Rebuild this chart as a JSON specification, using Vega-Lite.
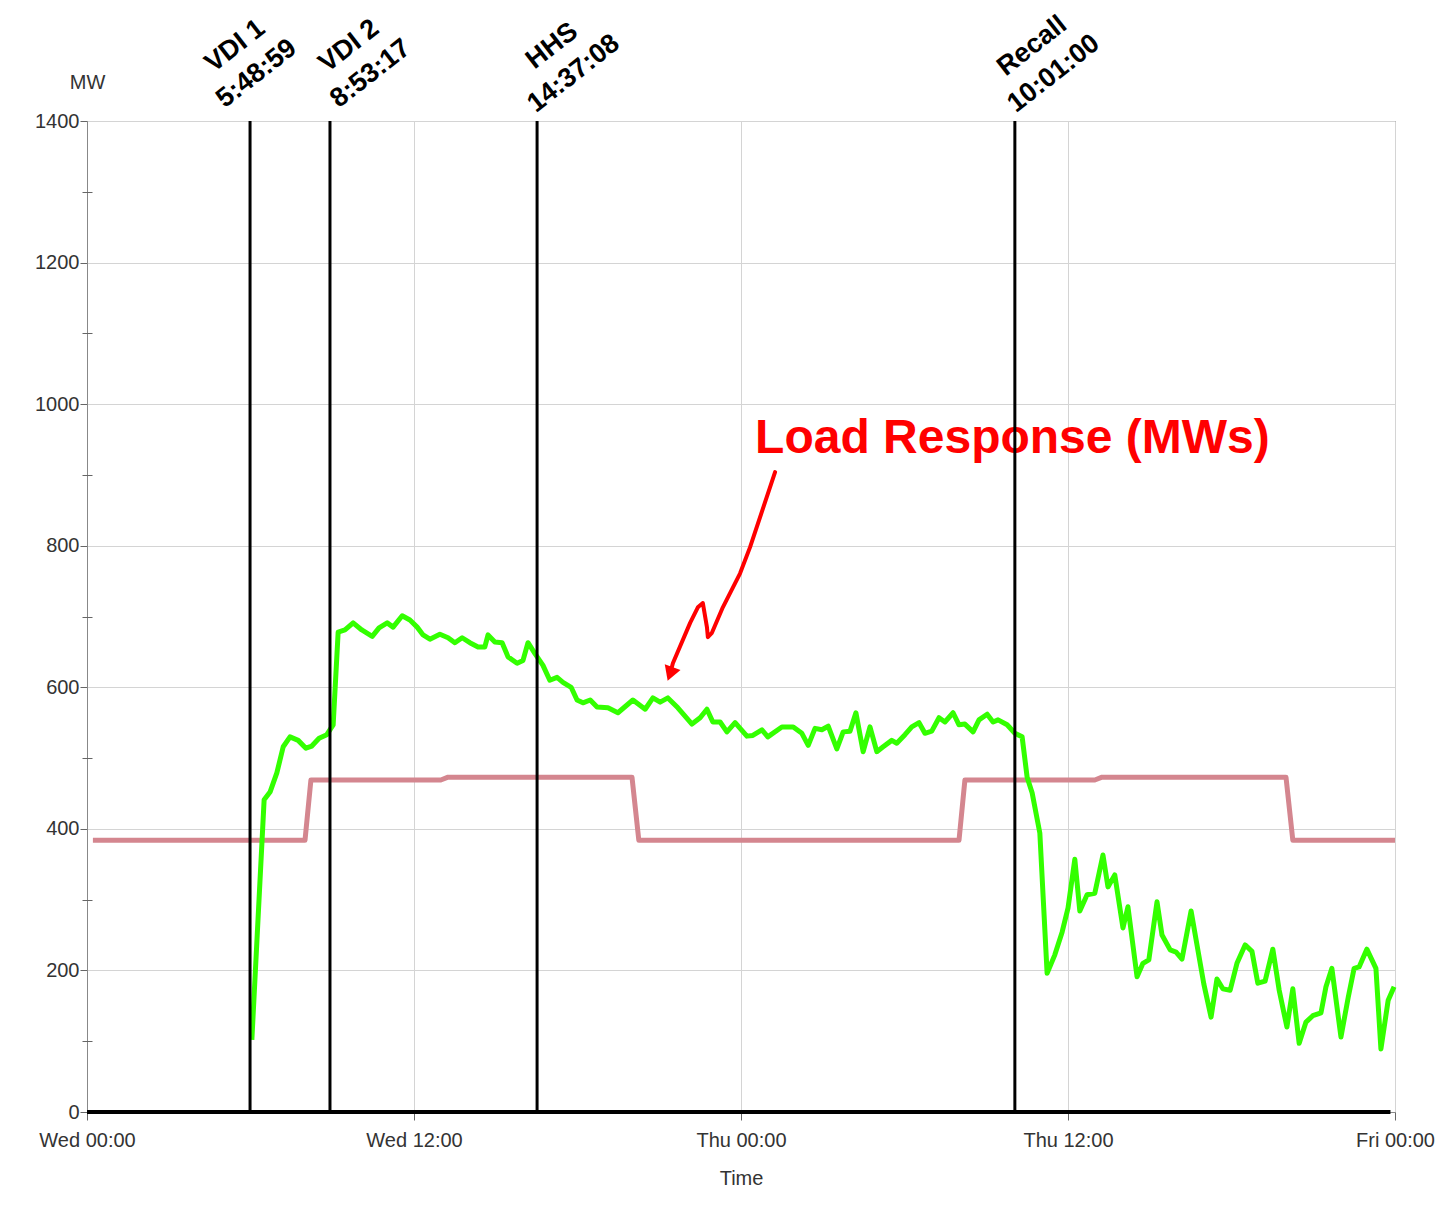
{
  "$schema": "https://vega.github.io/schema/vega-lite/v6.json",
  "width": 1308,
  "height": 991,
  "autosize": {"type": "none"},
  "padding": {"left": 87, "top": 121, "right": 49, "bottom": 119},
  "background": "white",
  "config": {
    "font": "Liberation Sans",
    "view": {"stroke": "#444", "strokeWidth": 1},
    "axis": {
      "labelFont": "Liberation Sans",
      "titleFont": "Liberation Sans",
      "labelFontSize": 20,
      "titleFontSize": 20,
      "titleFontWeight": "normal",
      "labelColor": "#333",
      "titleColor": "#333",
      "tickColor": "#666",
      "domainColor": "#888",
      "gridColor": "#d4d4d4",
      "gridWidth": 1
    }
  },
  "datasets": {
    "base": [
      {"t": "2024-01-03T00:13", "v": 384},
      {"t": "2024-01-03T08:00", "v": 384},
      {"t": "2024-01-03T08:13", "v": 469},
      {"t": "2024-01-03T12:59", "v": 469},
      {"t": "2024-01-03T13:15", "v": 473},
      {"t": "2024-01-03T20:00", "v": 473},
      {"t": "2024-01-03T20:15", "v": 384},
      {"t": "2024-01-04T08:00", "v": 384},
      {"t": "2024-01-04T08:13", "v": 469},
      {"t": "2024-01-04T12:59", "v": 469},
      {"t": "2024-01-04T13:15", "v": 473},
      {"t": "2024-01-04T20:00", "v": 473},
      {"t": "2024-01-04T20:15", "v": 384},
      {"t": "2024-01-05T00:00", "v": 384}
    ],
    "resp": [
      {"t": "2024-01-03T06:03", "v": 102},
      {"t": "2024-01-03T06:30", "v": 441},
      {"t": "2024-01-03T06:43", "v": 452},
      {"t": "2024-01-03T06:58", "v": 479},
      {"t": "2024-01-03T07:12", "v": 516},
      {"t": "2024-01-03T07:27", "v": 530},
      {"t": "2024-01-03T07:45", "v": 525},
      {"t": "2024-01-03T08:02", "v": 514},
      {"t": "2024-01-03T08:15", "v": 517},
      {"t": "2024-01-03T08:31", "v": 528},
      {"t": "2024-01-03T08:48", "v": 533},
      {"t": "2024-01-03T09:02", "v": 547},
      {"t": "2024-01-03T09:13", "v": 678},
      {"t": "2024-01-03T09:28", "v": 681},
      {"t": "2024-01-03T09:46", "v": 691},
      {"t": "2024-01-03T10:05", "v": 681},
      {"t": "2024-01-03T10:28", "v": 672},
      {"t": "2024-01-03T10:43", "v": 684},
      {"t": "2024-01-03T11:01", "v": 691},
      {"t": "2024-01-03T11:14", "v": 685},
      {"t": "2024-01-03T11:34", "v": 701},
      {"t": "2024-01-03T11:51", "v": 695},
      {"t": "2024-01-03T12:07", "v": 685},
      {"t": "2024-01-03T12:20", "v": 674},
      {"t": "2024-01-03T12:35", "v": 668},
      {"t": "2024-01-03T12:57", "v": 675},
      {"t": "2024-01-03T13:15", "v": 670},
      {"t": "2024-01-03T13:30", "v": 663},
      {"t": "2024-01-03T13:46", "v": 670},
      {"t": "2024-01-03T14:03", "v": 663},
      {"t": "2024-01-03T14:21", "v": 657},
      {"t": "2024-01-03T14:36", "v": 657},
      {"t": "2024-01-03T14:43", "v": 674},
      {"t": "2024-01-03T14:58", "v": 664},
      {"t": "2024-01-03T15:14", "v": 663},
      {"t": "2024-01-03T15:27", "v": 643},
      {"t": "2024-01-03T15:47", "v": 634},
      {"t": "2024-01-03T16:00", "v": 638},
      {"t": "2024-01-03T16:11", "v": 663},
      {"t": "2024-01-03T16:26", "v": 648},
      {"t": "2024-01-03T16:44", "v": 631},
      {"t": "2024-01-03T16:59", "v": 610},
      {"t": "2024-01-03T17:15", "v": 614},
      {"t": "2024-01-03T17:28", "v": 607},
      {"t": "2024-01-03T17:46", "v": 600},
      {"t": "2024-01-03T17:59", "v": 582},
      {"t": "2024-01-03T18:12", "v": 578},
      {"t": "2024-01-03T18:28", "v": 582},
      {"t": "2024-01-03T18:43", "v": 572},
      {"t": "2024-01-03T19:07", "v": 571},
      {"t": "2024-01-03T19:29", "v": 564},
      {"t": "2024-01-03T20:02", "v": 582},
      {"t": "2024-01-03T20:29", "v": 569},
      {"t": "2024-01-03T20:46", "v": 585},
      {"t": "2024-01-03T21:02", "v": 579},
      {"t": "2024-01-03T21:19", "v": 585},
      {"t": "2024-01-03T21:41", "v": 571},
      {"t": "2024-01-03T22:12", "v": 548},
      {"t": "2024-01-03T22:30", "v": 557},
      {"t": "2024-01-03T22:45", "v": 569},
      {"t": "2024-01-03T22:58", "v": 551},
      {"t": "2024-01-03T23:14", "v": 551},
      {"t": "2024-01-03T23:29", "v": 537},
      {"t": "2024-01-03T23:47", "v": 550},
      {"t": "2024-01-04T00:13", "v": 531},
      {"t": "2024-01-04T00:26", "v": 532},
      {"t": "2024-01-04T00:46", "v": 540},
      {"t": "2024-01-04T00:59", "v": 530},
      {"t": "2024-01-04T01:30", "v": 544},
      {"t": "2024-01-04T01:55", "v": 544},
      {"t": "2024-01-04T02:14", "v": 535},
      {"t": "2024-01-04T02:28", "v": 518},
      {"t": "2024-01-04T02:43", "v": 542},
      {"t": "2024-01-04T02:58", "v": 540},
      {"t": "2024-01-04T03:12", "v": 545},
      {"t": "2024-01-04T03:31", "v": 513},
      {"t": "2024-01-04T03:45", "v": 537},
      {"t": "2024-01-04T04:00", "v": 538},
      {"t": "2024-01-04T04:13", "v": 564},
      {"t": "2024-01-04T04:29", "v": 509},
      {"t": "2024-01-04T04:44", "v": 544},
      {"t": "2024-01-04T04:59", "v": 509},
      {"t": "2024-01-04T05:13", "v": 516},
      {"t": "2024-01-04T05:32", "v": 525},
      {"t": "2024-01-04T05:43", "v": 521},
      {"t": "2024-01-04T06:01", "v": 533},
      {"t": "2024-01-04T06:16", "v": 544},
      {"t": "2024-01-04T06:32", "v": 550},
      {"t": "2024-01-04T06:45", "v": 535},
      {"t": "2024-01-04T07:00", "v": 538},
      {"t": "2024-01-04T07:16", "v": 557},
      {"t": "2024-01-04T07:29", "v": 551},
      {"t": "2024-01-04T07:47", "v": 564},
      {"t": "2024-01-04T08:00", "v": 547},
      {"t": "2024-01-04T08:13", "v": 548},
      {"t": "2024-01-04T08:31", "v": 537},
      {"t": "2024-01-04T08:44", "v": 554},
      {"t": "2024-01-04T09:02", "v": 562},
      {"t": "2024-01-04T09:15", "v": 551},
      {"t": "2024-01-04T09:26", "v": 554},
      {"t": "2024-01-04T09:46", "v": 547},
      {"t": "2024-01-04T10:03", "v": 535},
      {"t": "2024-01-04T10:19", "v": 530},
      {"t": "2024-01-04T10:30", "v": 473},
      {"t": "2024-01-04T10:41", "v": 451},
      {"t": "2024-01-04T10:58", "v": 394},
      {"t": "2024-01-04T11:14", "v": 196},
      {"t": "2024-01-04T11:31", "v": 222},
      {"t": "2024-01-04T11:47", "v": 254},
      {"t": "2024-01-04T12:00", "v": 288},
      {"t": "2024-01-04T12:15", "v": 357},
      {"t": "2024-01-04T12:26", "v": 284},
      {"t": "2024-01-04T12:42", "v": 307},
      {"t": "2024-01-04T12:59", "v": 309},
      {"t": "2024-01-04T13:17", "v": 363},
      {"t": "2024-01-04T13:28", "v": 318},
      {"t": "2024-01-04T13:43", "v": 335},
      {"t": "2024-01-04T14:01", "v": 260},
      {"t": "2024-01-04T14:12", "v": 290},
      {"t": "2024-01-04T14:32", "v": 191},
      {"t": "2024-01-04T14:45", "v": 210},
      {"t": "2024-01-04T14:58", "v": 215},
      {"t": "2024-01-04T15:16", "v": 297},
      {"t": "2024-01-04T15:27", "v": 250},
      {"t": "2024-01-04T15:45", "v": 229},
      {"t": "2024-01-04T15:58", "v": 226},
      {"t": "2024-01-04T16:11", "v": 216},
      {"t": "2024-01-04T16:31", "v": 284},
      {"t": "2024-01-04T16:44", "v": 236},
      {"t": "2024-01-04T16:59", "v": 181},
      {"t": "2024-01-04T17:15", "v": 134},
      {"t": "2024-01-04T17:28", "v": 188},
      {"t": "2024-01-04T17:41", "v": 174},
      {"t": "2024-01-04T17:57", "v": 172},
      {"t": "2024-01-04T18:12", "v": 210},
      {"t": "2024-01-04T18:30", "v": 236},
      {"t": "2024-01-04T18:45", "v": 227},
      {"t": "2024-01-04T18:58", "v": 182},
      {"t": "2024-01-04T19:14", "v": 185},
      {"t": "2024-01-04T19:31", "v": 230},
      {"t": "2024-01-04T19:45", "v": 172},
      {"t": "2024-01-04T20:02", "v": 120},
      {"t": "2024-01-04T20:15", "v": 174},
      {"t": "2024-01-04T20:29", "v": 97},
      {"t": "2024-01-04T20:44", "v": 127},
      {"t": "2024-01-04T20:59", "v": 136},
      {"t": "2024-01-04T21:17", "v": 140},
      {"t": "2024-01-04T21:28", "v": 177},
      {"t": "2024-01-04T21:41", "v": 203},
      {"t": "2024-01-04T22:01", "v": 106},
      {"t": "2024-01-04T22:17", "v": 162},
      {"t": "2024-01-04T22:30", "v": 203},
      {"t": "2024-01-04T22:41", "v": 205},
      {"t": "2024-01-04T22:58", "v": 230},
      {"t": "2024-01-04T23:18", "v": 203},
      {"t": "2024-01-04T23:29", "v": 89},
      {"t": "2024-01-04T23:45", "v": 158},
      {"t": "2024-01-04T23:58", "v": 177}
    ],
    "events": [
      {"t": "2024-01-03T05:59", "lt": "2024-01-03T05:26", "label": "VDI 1\n5:48:59"},
      {"t": "2024-01-03T08:55", "lt": "2024-01-03T09:37", "label": "VDI 2\n8:53:17"},
      {"t": "2024-01-03T16:31", "lt": "2024-01-03T17:04", "label": "HHS\n14:37:08"},
      {"t": "2024-01-04T10:03", "lt": "2024-01-04T10:41", "label": "Recall\n10:01:00"}
    ],
    "zero": [
      {"t0": "2024-01-03T00:00", "t1": "2024-01-04T23:50", "v": 0}
    ],
    "arrow": [
      {"i": 1, "t": "2024-01-04T01:15", "v": 904},
      {"i": 2, "t": "2024-01-04T00:20", "v": 798},
      {"i": 3, "t": "2024-01-03T23:58", "v": 761},
      {"i": 4, "t": "2024-01-03T23:20", "v": 713},
      {"i": 5, "t": "2024-01-03T22:56", "v": 677},
      {"i": 6, "t": "2024-01-03T22:47", "v": 671},
      {"i": 7, "t": "2024-01-03T22:45", "v": 685},
      {"i": 8, "t": "2024-01-03T22:36", "v": 719},
      {"i": 9, "t": "2024-01-03T22:25", "v": 713},
      {"i": 10, "t": "2024-01-03T22:08", "v": 691},
      {"i": 11, "t": "2024-01-03T21:30", "v": 634},
      {"i": 12, "t": "2024-01-03T21:24", "v": 619}
    ],
    "arrowhead": [
      {"t": "2024-01-03T21:24", "v": 619}
    ],
    "note": [
      {"t": "2024-01-04T00:31", "v": 931, "text": "Load Response (MWs)"}
    ]
  },
  "resolve": {"axis": {"y": "independent"}},
  "layer": [
    {
      "data": {"name": "base"},
      "mark": {"type": "line", "color": "#d4868f", "strokeWidth": 5, "strokeJoin": "round"},
      "encoding": {
        "x": {
          "field": "t", "type": "temporal",
          "scale": {"domain": [{"year": 2024, "month": 1, "date": 3, "hours": 0}, {"year": 2024, "month": 1, "date": 5, "hours": 0}]},
          "axis": {
            "values": [
              {"year": 2024, "month": 1, "date": 3, "hours": 0},
              {"year": 2024, "month": 1, "date": 3, "hours": 12},
              {"year": 2024, "month": 1, "date": 4, "hours": 0},
              {"year": 2024, "month": 1, "date": 4, "hours": 12},
              {"year": 2024, "month": 1, "date": 5, "hours": 0}
            ],
            "format": "%a %H:%M",
            "title": "Time",
            "tickSize": 8,
            "labelPadding": 10,
            "titlePadding": 18,
            "labelFlush": false,
            "labelOverlap": false,
            "grid": true
          }
        },
        "y": {
          "field": "v", "type": "quantitative",
          "scale": {"domain": [0, 1400]},
          "axis": {
            "values": [0, 200, 400, 600, 800, 1000, 1200, 1400],
            "format": "d",
            "grid": true,
            "tickSize": 7,
            "labelPadding": 1,
            "title": "MW",
            "titleAngle": 0,
            "titleX": 0,
            "titleY": -39,
            "titleAlign": "center",
            "titleBaseline": "middle"
          }
        }
      }
    },
    {
      "data": {"name": "resp"},
      "mark": {"type": "line", "color": "#33ff00", "strokeWidth": 5, "strokeJoin": "round"},
      "encoding": {
        "x": {"field": "t", "type": "temporal"},
        "y": {
          "field": "v", "type": "quantitative",
          "axis": {
            "orient": "left",
            "values": [100, 300, 500, 700, 900, 1100, 1300],
            "labels": false,
            "grid": false,
            "domain": false,
            "tickSize": 10,
            "offset": -5,
            "title": null
          }
        }
      }
    },
    {
      "data": {"name": "note"},
      "mark": {"type": "text", "color": "#ff0000", "fontSize": 48, "fontWeight": "bold", "align": "left", "baseline": "alphabetic"},
      "encoding": {
        "x": {"field": "t", "type": "temporal"},
        "y": {"field": "v", "type": "quantitative", "axis": null},
        "text": {"field": "text"}
      }
    },
    {
      "data": {"name": "arrow"},
      "mark": {"type": "line", "color": "#ff0000", "strokeWidth": 4, "strokeJoin": "round", "strokeCap": "round"},
      "encoding": {
        "x": {"field": "t", "type": "temporal"},
        "y": {"field": "v", "type": "quantitative", "axis": null},
        "order": {"field": "i"}
      }
    },
    {
      "data": {"name": "arrowhead"},
      "mark": {"type": "point", "shape": "triangle-up", "filled": true, "color": "#ff0000", "opacity": 1, "size": 280, "angle": 200},
      "encoding": {
        "x": {"field": "t", "type": "temporal"},
        "y": {"field": "v", "type": "quantitative", "axis": null}
      }
    },
    {
      "data": {"name": "zero"},
      "mark": {"type": "rule", "color": "#000000", "strokeWidth": 4},
      "encoding": {
        "x": {"field": "t0", "type": "temporal"},
        "x2": {"field": "t1"},
        "y": {"field": "v", "type": "quantitative", "axis": null}
      }
    },
    {
      "data": {"name": "events"},
      "mark": {"type": "rule", "color": "#000000", "strokeWidth": 3},
      "encoding": {
        "x": {"field": "t", "type": "temporal"},
        "y": {"datum": 0, "type": "quantitative", "axis": null},
        "y2": {"datum": 1400}
      }
    },
    {
      "data": {"name": "events"},
      "mark": {"type": "text", "color": "#000000", "fontSize": 27, "fontWeight": "bold", "align": "center", "baseline": "middle", "angle": -38, "lineBreak": "\n", "lineHeight": 35, "yOffset": -75},
      "encoding": {
        "x": {"field": "lt", "type": "temporal"},
        "y": {"datum": 1400, "type": "quantitative", "axis": null},
        "text": {"field": "label"}
      }
    }
  ]
}
